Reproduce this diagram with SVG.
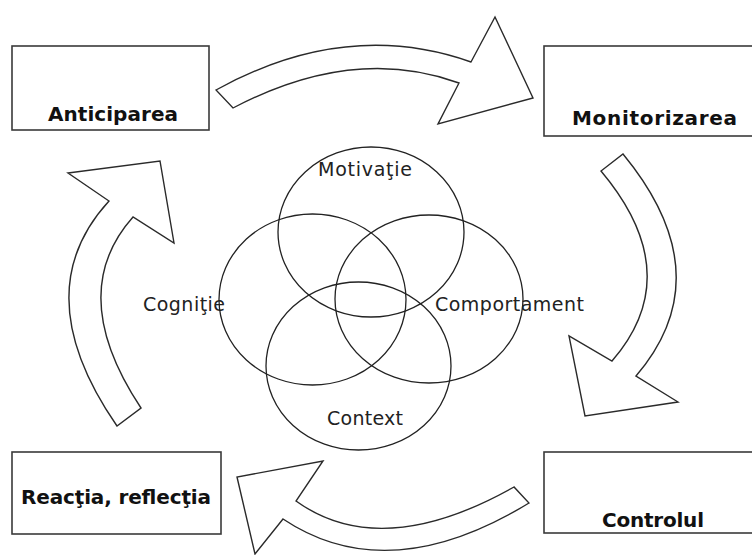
<svg xmlns="http://www.w3.org/2000/svg" width="752" height="555" viewBox="0 0 752 555">
  <style>
    .box { fill: #ffffff; stroke: #3a3a3a; stroke-width: 1.6; }
    .boxlabel { font-family: "DejaVu Sans", Verdana, sans-serif; font-weight: bold; font-size: 20px; fill: #111111; }
    .arrow { fill: #ffffff; stroke: #2a2a2a; stroke-width: 1.4; stroke-linejoin: miter; }
    .ring { fill: none; stroke: #222222; stroke-width: 1.3; }
    .ringlabel { font-family: "DejaVu Sans", Verdana, sans-serif; font-size: 19px; fill: #222222; }
  </style>

  <rect width="752" height="555" fill="#ffffff"/>

  <!-- cycle arrows -->
  <g id="connectors">
    <path id="arrow-top" class="arrow" d="M216,90 Q346.5,18 471,62 L495,17 L533,98 L438,124 L459,83 Q354,44.5 233,108 Z"/>
    <path id="arrow-right" class="arrow" d="M623,154 Q722.5,275 636,376 L678,402 L585,416 L569,336 L612,361 Q687.5,274 601,171 Z"/>
    <path id="arrow-bottom" class="arrow" d="M529,503 Q388,589 283,519 L255,554 L237,477 L323,461 L296,501 Q381,562 514,487 Z"/>
    <path id="arrow-left" class="arrow" d="M117,426 Q25,292.5 109,201 L68,173 L160,161 L174,243 L133,217 Q65,293.5 141,408 Z"/>
  </g>

  <!-- stage boxes -->
  <g id="anticiparea">
    <rect class="box" x="12" y="46" width="197" height="84"/>
    <text class="boxlabel" x="48" y="121" textLength="130" lengthAdjust="spacing">Anticiparea</text>
  </g>
  <g id="monitorizarea">
    <rect class="box" x="544" y="46" width="220" height="90"/>
    <text class="boxlabel" x="572" y="125" textLength="165" lengthAdjust="spacing">Monitorizarea</text>
  </g>
  <g id="controlul">
    <rect class="box" x="544" y="452" width="220" height="81"/>
    <text class="boxlabel" x="602" y="527" textLength="102" lengthAdjust="spacing">Controlul</text>
  </g>
  <g id="reactia">
    <rect class="box" x="12" y="452" width="209" height="82"/>
    <text class="boxlabel" x="21" y="504" textLength="190" lengthAdjust="spacing">Reacţia, reflecţia</text>
  </g>

  <!-- overlapping domains -->
  <g id="motivatie">
    <ellipse class="ring" cx="371" cy="232" rx="93" ry="85"/>
    <text class="ringlabel" x="318" y="176" textLength="94" lengthAdjust="spacing">Motivaţie</text>
  </g>
  <g id="cognitie">
    <ellipse class="ring" cx="312.5" cy="299.5" rx="93.5" ry="85.5"/>
    <text class="ringlabel" x="143" y="311" textLength="82" lengthAdjust="spacing">Cogniţie</text>
  </g>
  <g id="comportament">
    <ellipse class="ring" cx="429" cy="299" rx="94" ry="84"/>
    <text class="ringlabel" x="435" y="311" textLength="149" lengthAdjust="spacing">Comportament</text>
  </g>
  <g id="context">
    <ellipse class="ring" cx="358.5" cy="366" rx="92.5" ry="84"/>
    <text class="ringlabel" x="327" y="425" textLength="76" lengthAdjust="spacing">Context</text>
  </g>
</svg>
